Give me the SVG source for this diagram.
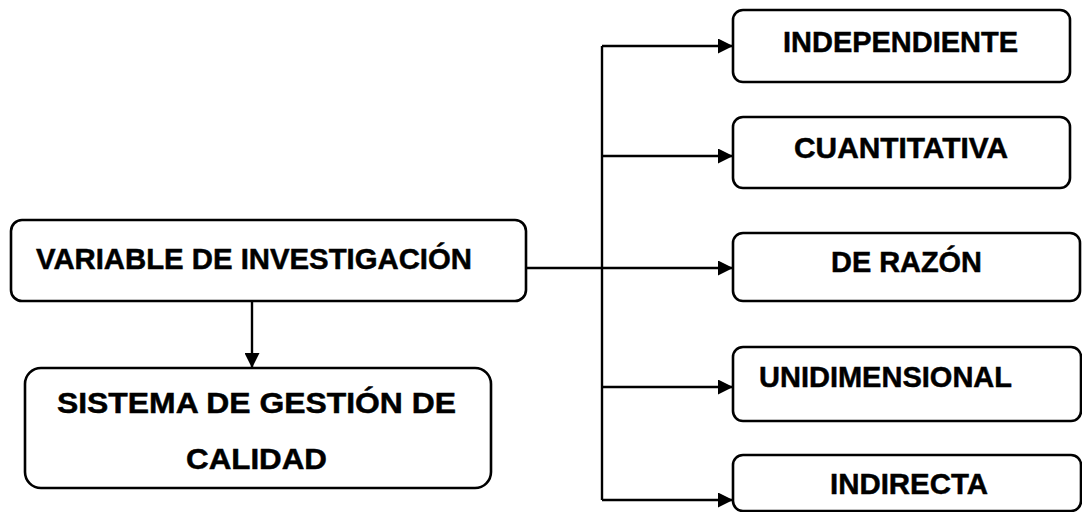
<svg xmlns="http://www.w3.org/2000/svg" width="1082" height="512" viewBox="0 0 1082 512">
<style>
.box{fill:#fff;stroke:#000;stroke-width:2.6}
.t{font-family:"Liberation Sans",Arial,sans-serif;font-weight:bold;font-size:30px;fill:#000;stroke:#000;stroke-width:0.5}
.c{fill:none;stroke:#000;stroke-width:2.4}
</style>
<defs>
<marker id="ah" viewBox="0 0 15 15" refX="15" refY="7.5" markerWidth="15" markerHeight="15" markerUnits="userSpaceOnUse" orient="auto">
<path d="M0,0 L15,7.5 L0,15 Z" fill="#000"/>
</marker>
</defs>
<rect width="1082" height="512" fill="#fff"/>
<g id="connectors">
<line class="c" x1="602" y1="46" x2="602" y2="500"/>
<line class="c" x1="526" y1="268" x2="733" y2="268" marker-end="url(#ah)"/>
<line class="c" x1="602" y1="46" x2="733" y2="46" marker-end="url(#ah)"/>
<line class="c" x1="602" y1="156" x2="733" y2="156" marker-end="url(#ah)"/>
<line class="c" x1="602" y1="387" x2="733" y2="387" marker-end="url(#ah)"/>
<line class="c" x1="602" y1="500" x2="733" y2="500" marker-end="url(#ah)"/>
<line class="c" x1="252" y1="301" x2="252" y2="368" marker-end="url(#ah)"/>
</g>
<g id="variable">
<rect class="box" x="11" y="220" width="515" height="81" rx="11"/>
<text class="t" x="36" y="269" textLength="436" lengthAdjust="spacingAndGlyphs">VARIABLE DE INVESTIGACIÓN</text>
</g>
<g id="sistema">
<rect class="box" x="25" y="368" width="466" height="120" rx="16"/>
<text class="t" x="57" y="413" textLength="399" lengthAdjust="spacingAndGlyphs">SISTEMA DE GESTIÓN DE</text>
<text class="t" x="186" y="469" textLength="141" lengthAdjust="spacingAndGlyphs">CALIDAD</text>
</g>
<g id="independiente">
<rect class="box" x="733" y="10" width="337" height="72" rx="10"/>
<text class="t" x="783" y="52" textLength="235" lengthAdjust="spacingAndGlyphs">INDEPENDIENTE</text>
</g>
<g id="cuantitativa">
<rect class="box" x="733" y="117" width="337" height="71" rx="10"/>
<text class="t" x="794" y="158" textLength="214" lengthAdjust="spacingAndGlyphs">CUANTITATIVA</text>
</g>
<g id="razon">
<rect class="box" x="733" y="233" width="347" height="68" rx="10"/>
<text class="t" x="831" y="272" textLength="151" lengthAdjust="spacingAndGlyphs">DE RAZÓN</text>
</g>
<g id="unidimensional">
<rect class="box" x="733" y="347" width="348" height="74" rx="10"/>
<text class="t" x="759" y="387" textLength="253" lengthAdjust="spacingAndGlyphs">UNIDIMENSIONAL</text>
</g>
<g id="indirecta">
<rect class="box" x="733" y="455" width="348" height="56" rx="10"/>
<text class="t" x="830" y="494" textLength="158" lengthAdjust="spacingAndGlyphs">INDIRECTA</text>
</g>
</svg>
